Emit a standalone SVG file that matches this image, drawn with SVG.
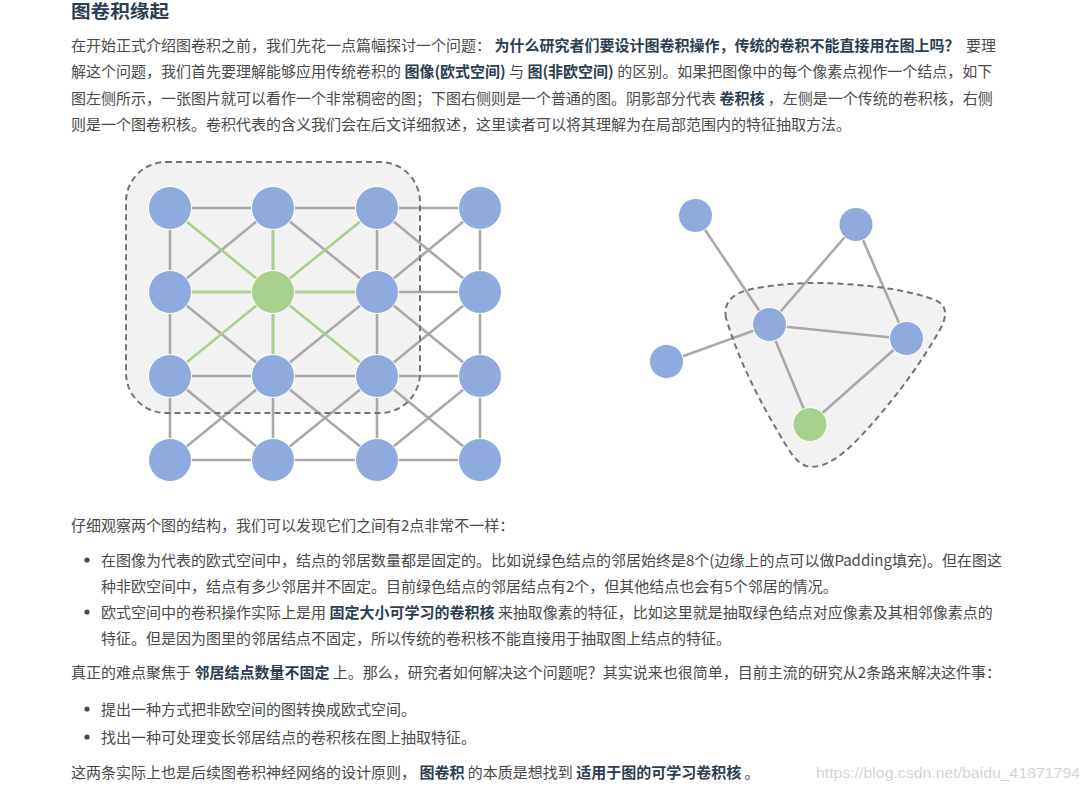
<svg xmlns="http://www.w3.org/2000/svg" width="1089" height="795" viewBox="0 0 1089 795" xml:lang="zh-CN">
<style>
text{font-family:"Noto Sans CJK SC","Noto Sans",sans-serif;font-size:15px;fill:#4a4a4a;white-space:pre}
.b{font-weight:bold;fill:#2c3e50}
.title{font-size:18px;font-weight:bold;fill:#2c3e50}
.e{stroke:#aaa8a9;stroke-width:2.6;fill:none}
.g{stroke:#a9d18e;stroke-width:2.6;fill:none}
.nb{fill:#8faadc;stroke:#fff;stroke-width:1}
.ng{fill:#a9d18e;stroke:#fff;stroke-width:1}
.shade{fill:#f2f2f2;stroke:none}
.dash{fill:none;stroke:#737373;stroke-width:2;stroke-dasharray:6 4}
.wm{font-family:"Liberation Sans",Arial,sans-serif;font-size:15px;fill:#d4d4d4}
</style>
<rect width="1089" height="795" fill="#fff"/>
<text class="title" x="71" y="18" textLength="98" lengthAdjust="spacingAndGlyphs">图卷积缘起</text>
<g id="para1">
<text x="71" y="50.5">在开始正式介绍图卷积之前，我们先花一点篇幅探讨一个问题： <tspan class="b">为什么研究者们要设计图卷积操作，传统的卷积不能直接用在图上吗？</tspan>  要理</text>
<text x="71" y="77">解这个问题，我们首先要理解能够应用传统卷积的 <tspan class="b">图像(欧式空间)</tspan> 与 <tspan class="b">图(非欧空间)</tspan> 的区别。如果把图像中的每个像素点视作一个结点，如下</text>
<text x="71" y="103.5">图左侧所示，一张图片就可以看作一个非常稠密的图；下图右侧则是一个普通的图。阴影部分代表 <tspan class="b">卷积核</tspan> ，左侧是一个传统的卷积核，右侧</text>
<text x="71" y="129.5">则是一个图卷积核。卷积代表的含义我们会在后文详细叙述，这里读者可以将其理解为在局部范围内的特征抽取方法。</text>
</g>
<g id="grid-kernel">
<rect class="shade" x="126" y="162" width="294" height="251" rx="40"/>
</g>
<g id="connectors">
<g id="grid-edges">
<path class="e" d="M170 208H480M170 292H480M170 376H480M170 460H480M170 208V460M273 208V460M377 208V460M480 208V460"/>
<path class="e" d="M273 208L170 292M273 208L377 292M377 208L480 292M480 208L377 292M170 292L273 376M377 292L273 376M377 292L480 376M480 292L377 376M170 376L273 460M273 376L170 460M273 376L377 460M377 376L273 460M377 376L480 460M480 376L377 460"/>
<path class="g" d="M273 292L170 208M273 292L273 208M273 292L377 208M273 292L170 292M273 292L377 292M273 292L170 376M273 292L273 376M273 292L377 376"/>
</g>
</g>
<g id="grid-kernel-outline">
<rect class="dash" x="126" y="162" width="294" height="251" rx="40"/>
</g>
<g id="grid-nodes">
<circle class="nb" cx="170" cy="208" r="21.5"/><circle class="nb" cx="273" cy="208" r="21.5"/><circle class="nb" cx="377" cy="208" r="21.5"/><circle class="nb" cx="480" cy="208" r="21.5"/>
<circle class="nb" cx="170" cy="292" r="21.5"/><circle class="ng" cx="273" cy="292" r="21.5"/><circle class="nb" cx="377" cy="292" r="21.5"/><circle class="nb" cx="480" cy="292" r="21.5"/>
<circle class="nb" cx="170" cy="376" r="21.5"/><circle class="nb" cx="273" cy="376" r="21.5"/><circle class="nb" cx="377" cy="376" r="21.5"/><circle class="nb" cx="480" cy="376" r="21.5"/>
<circle class="nb" cx="170" cy="460" r="21.5"/><circle class="nb" cx="273" cy="460" r="21.5"/><circle class="nb" cx="377" cy="460" r="21.5"/><circle class="nb" cx="480" cy="460" r="21.5"/>
</g>
<g id="graph-kernel">
<path class="shade" d="M726 318C722 296 742 290 763 287C790 283 815 282 845 284C880 286 915 292 935 300C950 306 946 320 938 333C918 368 890 405 860 437C840 458 822 470 806 466C796 462 790 452 784 442C762 405 740 365 726 318Z"/>
</g>
<g id="graph-edges">
<path class="e" d="M695 215L769 325M856 224L769 325M856 224L906 339M769 325L667 362M769 325L906 339M769 325L810 424M906 339L810 424"/>
</g>
<g id="graph-kernel-outline">
<path class="dash" d="M726 318C722 296 742 290 763 287C790 283 815 282 845 284C880 286 915 292 935 300C950 306 946 320 938 333C918 368 890 405 860 437C840 458 822 470 806 466C796 462 790 452 784 442C762 405 740 365 726 318Z"/>
</g>
<g id="graph-nodes">
<circle class="nb" cx="695.5" cy="215.5" r="17"/>
<circle class="nb" cx="856" cy="224.5" r="17"/>
<circle class="nb" cx="769.5" cy="324.5" r="17"/>
<circle class="nb" cx="666.5" cy="361.5" r="17"/>
<circle class="nb" cx="906.5" cy="338.5" r="17"/>
<circle class="ng" cx="810" cy="424.5" r="17"/>
</g>
<g id="para2">
<text x="71" y="530.5">仔细观察两个图的结构，我们可以发现它们之间有2点非常不一样：</text>
<circle cx="87" cy="560" r="2.6" fill="#4a4a4a"/>
<text x="101" y="566">在图像为代表的欧式空间中，结点的邻居数量都是固定的。比如说绿色结点的邻居始终是8个(边缘上的点可以做Padding填充)。但在图这</text>
<text x="101" y="592">种非欧空间中，结点有多少邻居并不固定。目前绿色结点的邻居结点有2个，但其他结点也会有5个邻居的情况。</text>
<circle cx="87" cy="612" r="2.6" fill="#4a4a4a"/>
<text x="101" y="618">欧式空间中的卷积操作实际上是用 <tspan class="b">固定大小可学习的卷积核</tspan> 来抽取像素的特征，比如这里就是抽取绿色结点对应像素及其相邻像素点的</text>
<text x="101" y="644">特征。但是因为图里的邻居结点不固定，所以传统的卷积核不能直接用于抽取图上结点的特征。</text>
<text x="71" y="677.5">真正的难点聚焦于 <tspan class="b">邻居结点数量不固定</tspan> 上。那么，研究者如何解决这个问题呢？其实说来也很简单，目前主流的研究从2条路来解决这件事：</text>
<circle cx="87" cy="709" r="2.6" fill="#4a4a4a"/>
<text x="101" y="714.5">提出一种方式把非欧空间的图转换成欧式空间。</text>
<circle cx="87" cy="737" r="2.6" fill="#4a4a4a"/>
<text x="101" y="742.5">找出一种可处理变长邻居结点的卷积核在图上抽取特征。</text>
<text x="71" y="777.5">这两条实际上也是后续图卷积神经网络的设计原则， <tspan class="b">图卷积</tspan> 的本质是想找到 <tspan class="b">适用于图的可学习卷积核</tspan> 。</text>
<text class="wm" x="816" y="778" textLength="264" lengthAdjust="spacingAndGlyphs">https://blog.csdn.net/baidu_41871794</text>
</g>
</svg>
